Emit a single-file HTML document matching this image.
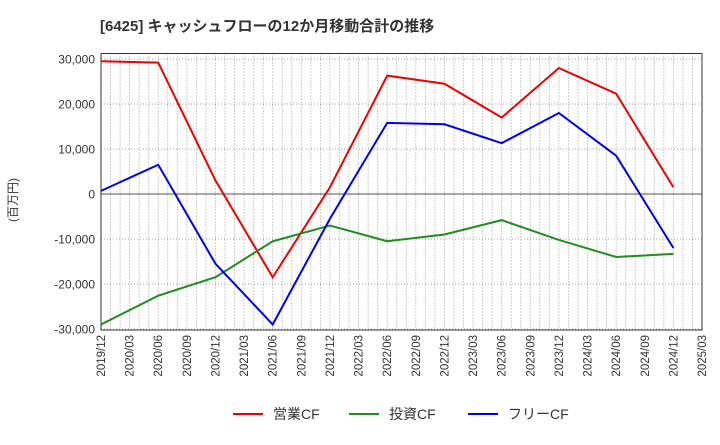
<!DOCTYPE html>
<html><head><meta charset="utf-8"><style>
body{margin:0;background:#fff;font-family:"Liberation Sans","Noto Sans CJK JP",sans-serif;}
svg text{font-family:"Liberation Sans","Noto Sans CJK JP",sans-serif;}
</style></head><body>
<svg id="chart" width="720" height="440">
<text x="100" y="31" font-size="15" font-weight="bold" fill="#333">[6425]  キャッシュフローの12か月移動合計の推移</text>
<text transform="translate(17,200) rotate(-90)" font-size="12" fill="#333" text-anchor="middle">(百万円)</text>
<g id="grid"></g><g id="axes"></g><g id="series"></g><g id="legend"></g>
</svg>
<script>
const xLabels=["2019/12","2020/03","2020/06","2020/09","2020/12","2021/03","2021/06","2021/09","2021/12","2022/03","2022/06","2022/09","2022/12","2023/03","2023/06","2023/09","2023/12","2024/03","2024/06","2024/09","2024/12","2025/03"];
const yTicks=[30000,20000,10000,0,-10000,-20000,-30000];
const pointQuarters=[0,2,4,6,8,10,12,14,16,18,20];
const opCF=[29500,29200,3000,-18500,1500,26300,24500,17000,28000,22300,1500];
const invCF=[-29000,-22600,-18500,-10500,-7000,-10500,-9000,-5800,-10200,-14000,-13300];
const freeCF=[700,6500,-15500,-29000,-5500,15800,15500,11300,18000,8500,-12000];
const seriesNames=["営業CF","投資CF","フリーCF"];
const L=101,R=702,T=53.5,B=330;
const x=q=>L+q*(R-L)/21;
const y=v=>194-v*0.0045;
const ns="http://www.w3.org/2000/svg";
function mk(tag,attrs,parent){const e=document.createElementNS(ns,tag);for(const k in attrs)e.setAttribute(k,attrs[k]);parent.appendChild(e);return e;}
const grid=document.getElementById('grid'),axes=document.getElementById('axes'),ser=document.getElementById('series'),leg=document.getElementById('legend');
for(let m=1;m<63;m++){const xx=L+m*(R-L)/63;const g=mk('line',{x1:xx,x2:xx,y1:T,y2:B,stroke:'#888','stroke-width':0.8,'stroke-dasharray':'1,2'},grid);

}
yTicks.forEach(v=>{const g=mk('line',{x1:L,x2:R,y1:y(v),y2:y(v),stroke:v===0?'#555':'#888','stroke-width':v===0?1:0.8,'stroke-dasharray':v===0?'':'1,2'},grid);


const t=mk('text',{x:L-6,y:y(v)+4.5,'text-anchor':'end','font-size':12,fill:'#333'},axes);t.textContent=v.toLocaleString('en-US');

});
const fr=mk('rect',{x:L,y:T,width:R-L,height:B-T,fill:'none',stroke:'#333','stroke-width':1},axes);


xLabels.forEach((s,i)=>{const t=mk('text',{transform:`translate(${x(i)+4},${B+5}) rotate(-90)`,'text-anchor':'end','font-size':11.5,fill:'#333'},axes);t.textContent=s;

});
const data=[opCF,invCF,freeCF],cols=['#f00000','#228b22','#0000f0'],names=['operating-cf-line','investing-cf-line','free-cf-line'];
data.forEach((d,k)=>{const p=mk('polyline',{points:d.map((v,i)=>x(pointQuarters[i])+','+y(v)).join(' '),fill:'none',stroke:cols[k],'stroke-width':2},ser);

});
const lx=[233,349,468];
seriesNames.forEach((n,k)=>{const g=mk('g',{},leg);


mk('line',{x1:lx[k],x2:lx[k]+30,y1:414,y2:414,stroke:cols[k],'stroke-width':2},g);
const t=mk('text',{x:lx[k]+40,y:419,'font-size':14,fill:'#333'},g);t.textContent=n;});
</script>
</body></html>
